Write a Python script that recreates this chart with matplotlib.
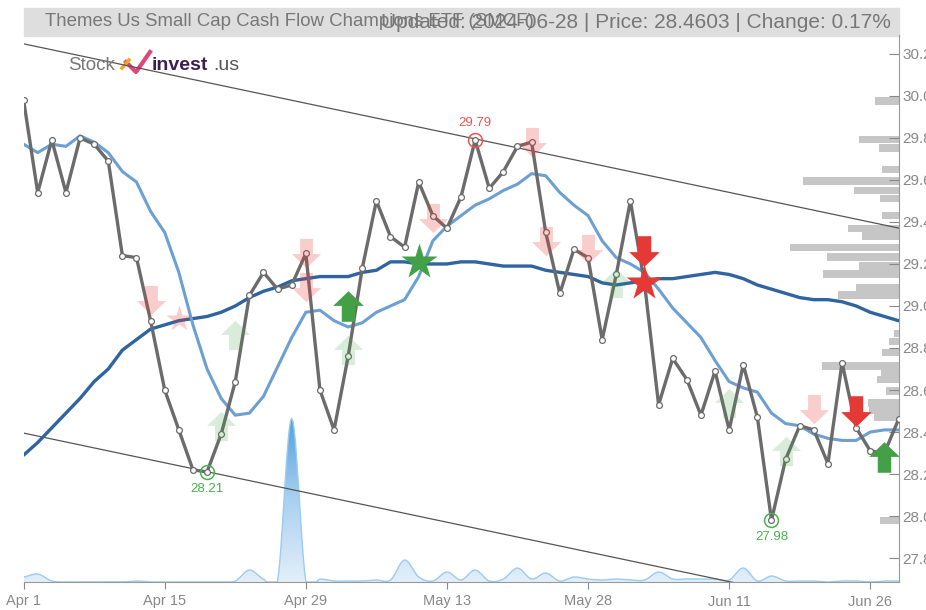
import numpy as np
import matplotlib
matplotlib.use("Agg")
import matplotlib.pyplot as plt
from matplotlib.path import Path
from matplotlib.lines import Line2D
from matplotlib.colors import LinearSegmentedColormap

plt.rcParams['font.family'] = ['Liberation Sans', 'DejaVu Sans']

# ---------------- data ----------------
tick_labels = ["Apr 1", "Apr 15", "Apr 29", "May 13", "May 28", "Jun 11", "Jun 26"]
tick_index = [0, 10, 20, 30, 40, 50, 60]

close = [29.98, 29.54, 29.79, 29.54, 29.80, 29.77, 29.69, 29.24, 29.23, 28.93,
         28.60, 28.41, 28.22, 28.21, 28.39, 28.64, 29.05, 29.16, 29.08, 29.10,
         29.25, 28.60, 28.41, 28.76, 29.18, 29.50, 29.33, 29.28, 29.59, 29.43,
         29.37, 29.52, 29.79, 29.56, 29.64, 29.76, 29.78, 29.35, 29.06, 29.27,
         29.23, 28.84, 29.15, 29.50, 29.11, 28.53, 28.75, 28.65, 28.48, 28.69,
         28.41, 28.72, 28.47, 27.98, 28.27, 28.43, 28.41, 28.25, 28.73, 28.42,
         28.31, 28.30, 28.46]

ma_short = [29.77, 29.73, 29.77, 29.76, 29.81, 29.78, 29.73, 29.64, 29.59, 29.45,
            29.35, 29.16, 28.91, 28.70, 28.56, 28.48, 28.49, 28.57, 28.71, 28.85,
            28.97, 28.98, 28.93, 28.90, 28.92, 28.97, 29.00, 29.03, 29.14, 29.31,
            29.38, 29.43, 29.48, 29.51, 29.55, 29.58, 29.63, 29.62, 29.54, 29.48,
            29.43, 29.31, 29.23, 29.20, 29.16, 29.08, 28.99, 28.92, 28.85, 28.74,
            28.64, 28.61, 28.59, 28.49, 28.44, 28.43, 28.39, 28.37, 28.36, 28.36,
            28.40, 28.41, 28.41]

ma_long = [28.29, 28.35, 28.42, 28.49, 28.56, 28.64, 28.70, 28.79, 28.84, 28.89,
           28.91, 28.93, 28.94, 28.95, 28.97, 29.00, 29.04, 29.07, 29.09, 29.12,
           29.13, 29.14, 29.14, 29.14, 29.16, 29.17, 29.21, 29.21, 29.20, 29.20,
           29.20, 29.21, 29.21, 29.20, 29.19, 29.19, 29.19, 29.17, 29.16, 29.15,
           29.14, 29.11, 29.10, 29.11, 29.12, 29.13, 29.13, 29.14, 29.15, 29.16,
           29.15, 29.13, 29.10, 29.08, 29.06, 29.04, 29.03, 29.03, 29.02, 29.00,
           28.97, 28.95, 28.93]

volume = [5, 8, 1, 0, 0, 0, 0, 0, 1, 0,
          0, 0, 0, 0, 0, 1, 12, 3, 1, 164,
          1, 3, 1, 1, 1, 2, 2, 22, 5, 1,
          10, 2, 12, 1, 3, 14, 3, 9, 1, 5,
          3, 2, 3, 2, 2, 10, 3, 3, 3, 3,
          2, 14, 1, 6, 1, 1, 1, 0, 1, 1,
          0, 1, 1]

trend_x = [0, 62]
trend_upper = [30.248, 29.371]
trend_lower = [28.395, 27.518]

profile_price = [29.976, 29.793, 29.752, 29.648, 29.595, 29.548, 29.510, 29.430,
                 29.370, 29.333, 29.280, 29.233, 29.190, 29.152, 29.090, 29.052,
                 28.870, 28.830, 28.780, 28.714, 28.686, 28.652, 28.595, 28.538,
                 28.505, 28.470, 27.980]
profile_vol = [24, 40, 20, 17, 96, 45, 19, 17,
               51, 37, 109, 72, 40, 76, 43, 61,
               5, 10, 17, 77, 18, 22, 13, 31,
               30, 25, 19]

sig_light_down = [(9, 29.03), (20, 29.25), (20, 29.09), (29, 29.42), (36, 29.78),
                  (37, 29.31), (40, 29.27), (56, 28.51)]
sig_light_star = [(11, 28.94)]
sig_light_up = [(14, 28.43), (15, 28.86), (23, 28.79), (42, 29.11), (50, 28.54), (54, 28.31)]
sig_up = [(23, 29.00), (61, 28.28)]
sig_star_green = [(28, 29.21)]
sig_down = [(44, 29.26), (59, 28.50)]
sig_star_red = [(44, 29.11)]

hi_idx, hi_val = 32, 29.79
lo_marks = [(13, 28.21), (53, 27.98)]

title_left = "Themes Us Small Cap Cash Flow Champions ETF (SMCF)"
title_right = "Updated: 2024-06-28 | Price: 28.4603 | Change: 0.17%"

# ---------------- figure ----------------
W, H = 926, 610
fig = plt.figure(figsize=(W / 100, H / 100), dpi=100)
L, R, T, B = 23.6, 898.5, 35, 582
ax = fig.add_axes([L / W, 1 - B / H, (R - L) / W, (B - T) / H])
x = np.arange(len(close))
ax.set_xlim(0, len(close) - 1)
ax.set_ylim(27.686, 30.29)

# volume axis (below)
axv = ax.twinx()
axv.axis('off')
v = np.array(volume, float)
vp = np.concatenate([[v[0]], v, [v[-1]]])
xs, ys = [], []
for i in range(len(v) - 1):
    p0, p1, p2, p3 = vp[i], vp[i + 1], vp[i + 2], vp[i + 3]
    t = np.linspace(0, 1, 12, endpoint=False)
    yy = 0.5 * ((2 * p1) + (-p0 + p2) * t + (2 * p0 - 5 * p1 + 4 * p2 - p3) * t ** 2
                + (-p0 + 3 * p1 - 3 * p2 + p3) * t ** 3)
    xs.append(i + t)
    ys.append(yy)
xs.append([len(v) - 1])
ys.append([v[-1]])
xs = np.concatenate(xs)
ys = np.clip(np.concatenate(ys), 0, None)
poly = axv.fill_between(xs, 0, ys, color='none', lw=0)
grad = np.linspace(0, 1, 256).reshape(-1, 1)
cmap = LinearSegmentedColormap.from_list('vg', ['#e3effa', '#a9d0f0', '#4f9fdc'])
im = axv.imshow(grad, extent=[0, len(v) - 1, 0, max(volume) * 1.02], origin='lower',
                aspect='auto', cmap=cmap, zorder=1)
im.set_clip_path(poly.get_paths()[0], transform=axv.transData)
axv.plot(xs, ys, color='#9ccbee', lw=1.0, zorder=2)
axv.set_ylim(0, max(volume) * 548 / 164)
axv.set_xlim(0, len(close) - 1)

# volume profile (right side)
axp = ax.twiny()
axp.set_xlim(max(profile_vol) * (R - L) / 109, 0)
axp.barh(profile_price, profile_vol, height=0.034, color='#c6c6c6', lw=0, zorder=0)
axp.axis('off')

ax.set_zorder(3)
ax.patch.set_visible(False)
axp.set_zorder(2)
axv.set_zorder(1)

# trend channel
ax.plot(trend_x, trend_upper, color='#555555', lw=0.9, zorder=2)
ax.plot(trend_x, trend_lower, color='#555555', lw=0.9, zorder=2)

# moving averages
ax.plot(x, ma_long, color='#2f64a0', lw=2.4, zorder=3, solid_capstyle='round')
ax.plot(x, ma_short, color='#6d9fd2', lw=2.2, zorder=3, solid_capstyle='round')

# price
ax.plot(x, close, color='#6b6b6b', lw=2.4, zorder=4, marker='o', ms=4.2,
        mfc='white', mec='#6b6b6b', mew=0.9)

# signal markers
up_verts = [(-0.22, -0.5), (0.22, -0.5), (0.22, 0.02), (0.5, 0.02), (0.0, 0.5),
            (-0.5, 0.02), (-0.22, 0.02), (-0.22, -0.5)]
up_arrow = Path(up_verts, closed=True)
down_arrow = Path([(a, -b) for a, b in up_verts], closed=True)
RED, GREEN = '#e53935', '#43a047'

def mk(pts, marker, color, alpha, size):
    if pts:
        px, py = zip(*pts)
        ax.plot(px, py, ls='none', marker=marker, ms=size, mfc=color, mec='none',
                alpha=alpha, zorder=5)

mk(sig_light_down, down_arrow, RED, 0.25, 21)
mk(sig_light_star, '*', RED, 0.25, 20)
mk(sig_light_up, up_arrow, GREEN, 0.2, 21)
mk(sig_up, up_arrow, GREEN, 1, 22)
mk(sig_star_green, '*', GREEN, 1, 27)
mk(sig_down, down_arrow, RED, 1, 22)
mk(sig_star_red, '*', RED, 1, 27)

# extremes
ax.plot([hi_idx], [hi_val], marker='o', ms=10, mfc='none', mec='#ef5350', mew=1.1, zorder=6)
ax.annotate(f"{hi_val:.2f}", (hi_idx, hi_val), xytext=(0, 8), textcoords='offset points',
            ha='center', va='bottom', color='#ef5350', fontsize=9.5, zorder=6)
for li, lv in lo_marks:
    ax.plot([li], [lv], marker='o', ms=10, mfc='none', mec='#4caf50', mew=1.1, zorder=6)
    ax.annotate(f"{lv:.2f}", (li, lv), xytext=(0, -8), textcoords='offset points',
                ha='center', va='top', color='#4caf50', fontsize=9.5, zorder=6)

# axes styling
for s in ['top', 'left']:
    ax.spines[s].set_visible(False)
ax.spines['right'].set_color('#999999')
ax.spines['bottom'].set_color('#999999')
ax.yaxis.tick_right()
yt = np.round(np.arange(27.8, 30.21, 0.2), 1)
ax.set_yticks(yt)
ax.set_yticklabels([f"{t:.1f}" for t in yt])
ax.tick_params(axis='y', direction='in', length=7, color='#888888', labelcolor='#888888',
               labelsize=11, pad=3)
ax.set_xticks(tick_index)
ax.set_xticklabels(tick_labels)
ax.tick_params(axis='x', direction='out', length=5, color='#888888', labelcolor='#888888',
               labelsize=10.5, pad=4)

# title bar
fig.patches.append(plt.Rectangle((L / W, 1 - 36 / H), (R - L) / W, 28 / H,
                                 transform=fig.transFigure, color='#dedede', zorder=0))
fig.text(45 / W, 1 - 22 / H, title_left, ha='left', va='center', fontsize=13.4, color='#777777')
fig.text(891 / W, 1 - 22 / H, title_right, ha='right', va='center', fontsize=15, color='#777777')

# logo
fig.text(68 / W, 1 - 65 / H, "Stock", ha='left', va='center', fontsize=13.5, color='#777777')
fig.lines.append(Line2D([126 / W, 136 / W, 150 / W], [1 - 62 / H, 1 - 72 / H, 1 - 52 / H],
                        transform=fig.transFigure, color='#e0457b', lw=3))
fig.lines.append(Line2D([122 / W, 129 / W], [1 - 68 / H, 1 - 60 / H],
                        transform=fig.transFigure, color='#f5a623', lw=2.5))
fig.text(152 / W, 1 - 65 / H, "invest", ha='left', va='center', fontsize=14, color='#3b1f52',
         weight='bold')
fig.text(213 / W, 1 - 65 / H, ".us", ha='left', va='center', fontsize=14, color='#555555')

fig.savefig("out.png", dpi=100)
